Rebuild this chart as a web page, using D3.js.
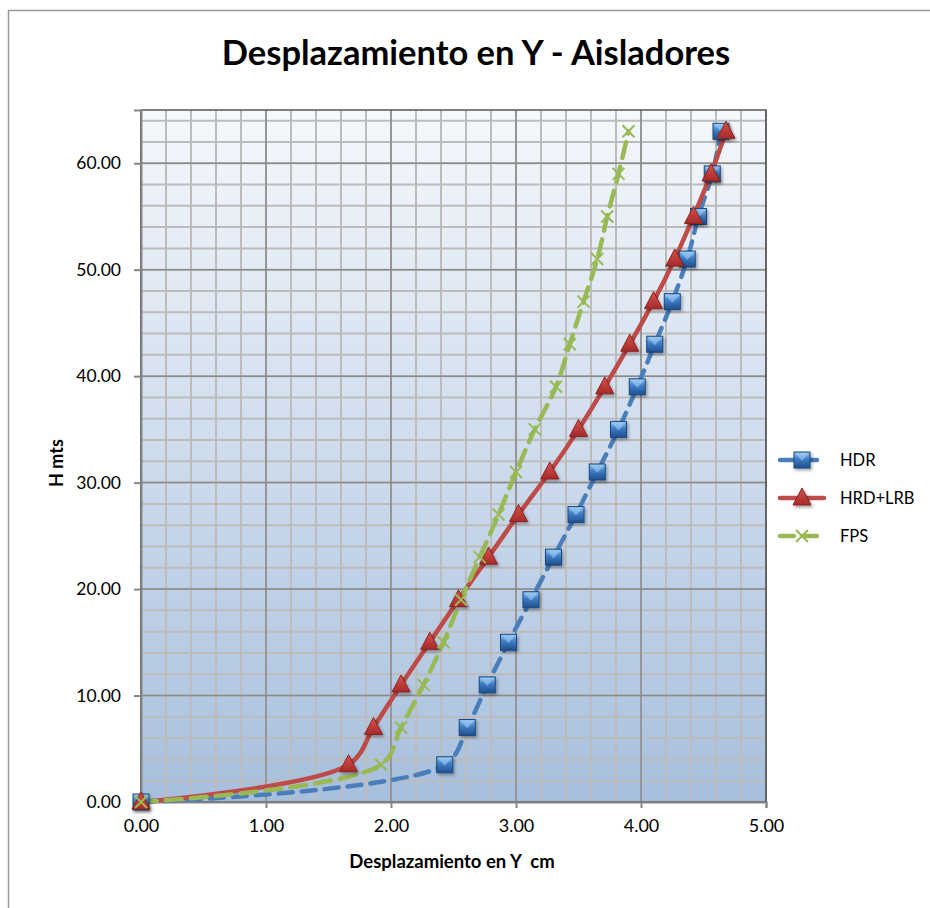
<!DOCTYPE html>
<html>
<head>
<meta charset="utf-8">
<script src="https://cdn.jsdelivr.net/npm/d3@7"></script>
<style>
  body { margin: 0; background: #fff; }
  text { font-family: Lato, "Open Sans", sans-serif; }
</style>
</head>
<body>
<div id="chart"></div>
<script>
// heights (m) shared by all three series
const alturas = [0, 3.5, 7, 11, 15, 19, 23, 27, 31, 35, 39, 43, 47, 51, 55, 59, 63];
const hdr = [0, 2.43, 2.61, 2.77, 2.94, 3.12, 3.30, 3.48, 3.65, 3.82, 3.97, 4.11, 4.25, 4.37, 4.46, 4.57, 4.64];
const hrdLrb = [0, 1.66, 1.86, 2.08, 2.31, 2.54, 2.78, 3.02, 3.27, 3.50, 3.71, 3.91, 4.10, 4.27, 4.42, 4.56, 4.68];
const fps = [0, 1.92, 2.08, 2.26, 2.42, 2.56, 2.71, 2.86, 3.00, 3.15, 3.32, 3.43, 3.54, 3.65, 3.73, 3.82, 3.90];
const xTicks = [0, 1, 2, 3, 4, 5];
const yTicks = [0, 10, 20, 30, 40, 50, 60];
const nombres = ["HDR", "HRD+LRB", "FPS"];

var width = 930, height = 908;
var pLeft = 141, pRight = 766, pTop = 110, pBottom = 802;

var svg = d3.select("#chart").append("svg")
  .attr("width", width).attr("height", height);

var defs = svg.append("defs");
var bg = defs.append("linearGradient").attr("id", "bg")
  .attr("x1", 0).attr("y1", 0).attr("x2", 0).attr("y2", 1);
bg.append("stop").attr("offset", "0%").attr("stop-color", "#f5f8fc");
bg.append("stop").attr("offset", "100%").attr("stop-color", "#a7bfdd");

var sq = defs.append("linearGradient").attr("id", "sq")
  .attr("x1", 0).attr("y1", 0).attr("x2", 0).attr("y2", 1);
sq.append("stop").attr("offset", "0%").attr("stop-color", "#8fc3f0");
sq.append("stop").attr("offset", "45%").attr("stop-color", "#3d7cc4");
sq.append("stop").attr("offset", "100%").attr("stop-color", "#1f4f8c");

var tri = defs.append("linearGradient").attr("id", "tri")
  .attr("x1", 0).attr("y1", 0).attr("x2", 0).attr("y2", 1);
tri.append("stop").attr("offset", "0%").attr("stop-color", "#d9534f");
tri.append("stop").attr("offset", "100%").attr("stop-color", "#a52a27");

var sh = defs.append("filter").attr("id", "sh")
  .attr("x", "-50%").attr("y", "-50%").attr("width", "200%").attr("height", "200%");
sh.append("feDropShadow").attr("dx", 1.5).attr("dy", 2).attr("stdDeviation", 1.5)
  .attr("flood-color", "#000").attr("flood-opacity", 0.35);

// outer chart frame
svg.append("rect").attr("x", 8.5).attr("y", 10.5).attr("width", 940).attr("height", 940)
  .attr("fill", "none").attr("stroke", "#9a9a9a").attr("stroke-width", 1.5);

var x = d3.scaleLinear().domain([0, 5]).range([pLeft, pRight]);
var y = d3.scaleLinear().domain([0, 65]).range([pBottom, pTop]);

svg.append("rect").attr("x", pLeft).attr("y", pTop)
  .attr("width", pRight - pLeft).attr("height", pBottom - pTop).attr("fill", "url(#bg)");

// minor grid
var g = svg.append("g");
g.selectAll("line.mx").data(d3.range(0, 5.01, 0.2)).enter().append("line")
  .attr("x1", d => x(d)).attr("x2", d => x(d)).attr("y1", pTop).attr("y2", pBottom)
  .attr("stroke", "#bcbcbc").attr("stroke-width", 2);
g.selectAll("line.my").data(d3.range(0, 65, 2)).enter().append("line")
  .attr("y1", d => y(d)).attr("y2", d => y(d)).attr("x1", pLeft).attr("x2", pRight)
  .attr("stroke", "#bcbcbc").attr("stroke-width", 2);
// major grid
g.selectAll("line.Mx").data(xTicks).enter().append("line")
  .attr("x1", d => x(d)).attr("x2", d => x(d)).attr("y1", pTop).attr("y2", pBottom)
  .attr("stroke", "#8a8a8a").attr("stroke-width", 1.5);
g.selectAll("line.My").data(yTicks).enter().append("line")
  .attr("y1", d => y(d)).attr("y2", d => y(d)).attr("x1", pLeft).attr("x2", pRight)
  .attr("stroke", "#8a8a8a").attr("stroke-width", 1.5);

svg.append("rect").attr("x", pLeft).attr("y", pTop)
  .attr("width", pRight - pLeft).attr("height", pBottom - pTop)
  .attr("fill", "none").attr("stroke", "#555").attr("stroke-width", 1.5);

// axes
svg.append("g").attr("transform", "translate(0," + pBottom + ")")
  .call(d3.axisBottom(x).tickValues(xTicks).tickSize(6).tickPadding(11).tickFormat(d3.format(".2f")))
  .call(a => a.selectAll("path,line").attr("stroke", "#868686").attr("stroke-width", 2))
  .call(a => a.selectAll("text").attr("font-size", 18).attr("fill", "#000")
    .style("font-family", "Lato, sans-serif"));
svg.append("g").attr("transform", "translate(" + pLeft + ",0)")
  .call(d3.axisLeft(y).tickValues(yTicks).tickSize(7).tickPadding(13).tickFormat(d3.format(".2f")))
  .call(a => a.selectAll("path,line").attr("stroke", "#868686").attr("stroke-width", 2))
  .call(a => a.selectAll("text").attr("font-size", 17.5).attr("fill", "#000")
    .style("font-family", "Lato, sans-serif"));

svg.append("text").attr("x", 476).attr("y", 65).attr("text-anchor", "middle")
  .attr("font-size", 34.5).attr("font-weight", "bold").text("Desplazamiento en Y - Aisladores");
svg.append("text").attr("x", 452).attr("y", 868).attr("text-anchor", "middle")
  .attr("font-size", 18.5).attr("font-weight", "bold").style("white-space", "pre")
  .text("Desplazamiento en Y  cm");
svg.append("text").attr("transform", "translate(63,463) rotate(-90)").attr("text-anchor", "middle")
  .attr("font-size", 18).attr("font-weight", "bold").text("H mts");

var series = [
  { name: nombres[0], vals: hdr, color: "#4a7ebb", dash: "14,9", marker: "square" },
  { name: nombres[1], vals: hrdLrb, color: "#be4b48", dash: null, marker: "triangle" },
  { name: nombres[2], vals: fps, color: "#98b954", dash: "16,9", marker: "x" }
];

var line = d3.line().x(d => x(d[0])).y(d => y(d[1])).curve(d3.curveCatmullRom.alpha(0.5));

function marker(sel, type) {
  if (type === "square") {
    sel.append("rect").attr("x", -8).attr("y", -8).attr("width", 16).attr("height", 16)
      .attr("fill", "url(#sq)").attr("stroke", "#1d477e").attr("stroke-width", 1)
      .attr("filter", "url(#sh)");
    sel.append("path").attr("d", "M-7,-7L7,-7L0,1Z").attr("fill", "#a9d3f5").attr("opacity", 0.55);
  } else if (type === "triangle") {
    sel.append("path").attr("d", "M0,-10L9,7L-9,7Z")
      .attr("fill", "url(#tri)").attr("stroke", "#8c2321").attr("stroke-width", 1)
      .attr("filter", "url(#sh)");
  } else {
    sel.append("path").attr("d", "M-6,-6L6,6M-6,6L6,-6")
      .attr("stroke", "#98b954").attr("stroke-width", 2).attr("fill", "none");
  }
}

series.forEach(function(s) {
  var pts = s.vals.map((v, i) => [v, alturas[i]]);
  svg.append("path").datum(pts).attr("d", line)
    .attr("fill", "none").attr("stroke", s.color).attr("stroke-width", 4.5)
    .attr("stroke-dasharray", s.dash).attr("stroke-linecap", "round");
});
series.forEach(function(s) {
  var pts = s.vals.map((v, i) => [v, alturas[i]]);
  svg.append("g").selectAll("g").data(pts).enter().append("g")
    .attr("transform", d => "translate(" + x(d[0]) + "," + y(d[1]) + ")")
    .each(function() { marker(d3.select(this), s.marker); });
});

// legend
var leg = svg.append("g");
series.forEach(function(s, i) {
  var ly = 460 + i * 38;
  var it = leg.append("g").attr("transform", "translate(0," + ly + ")");
  it.append("line").attr("x1", 780).attr("x2", 824).attr("y1", 0).attr("y2", 0)
    .attr("stroke", s.color).attr("stroke-width", 4.5)
    .attr("stroke-dasharray", s.dash ? "14,9" : null).attr("stroke-linecap", "round");
  marker(it.append("g").attr("transform", "translate(802,0)"), s.marker);
  it.append("text").attr("x", 840).attr("y", 6).attr("font-size", 16.5).text(s.name);
});
</script>
</body>
</html>
